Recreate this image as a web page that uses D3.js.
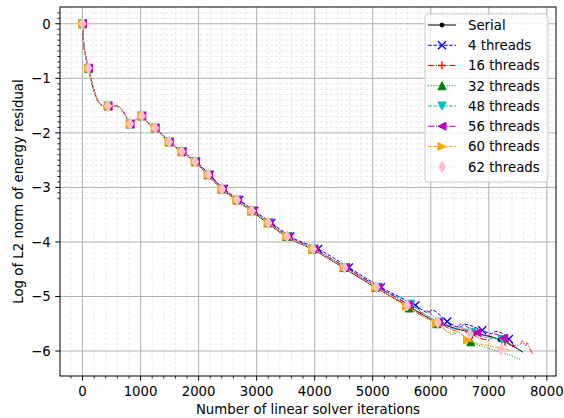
<!DOCTYPE html>
<html><head><meta charset="utf-8">
<script src="https://cdn.jsdelivr.net/npm/d3@7"></script>
<style>body{margin:0;background:#fff} text{font-family:"DejaVu Sans",sans-serif;fill:#000}</style>
</head><body><svg id="c" width="564" height="418"></svg>
<script>
// ---------- data ----------
const xTicks = [0, 1000, 2000, 3000, 4000, 5000, 6000, 7000, 8000];
const yTicks = [0, -1, -2, -3, -4, -5, -6];
const seriesNames = ["Serial", "4 threads", "16 threads", "32 threads", "48 threads", "56 threads", "60 threads", "62 threads"];

// shared early bend nodes of the residual curve (no markers)
const bendIter = [9, 26, 60, 186, 245, 350, 560, 680, 760, 1130];
const bendRes  = [-0.20, -0.42, -0.63, -1.18, -1.365, -1.50, -1.50, -1.58, -1.72, -1.82];

// outer-step (marker) points and extra line nodes for each run
const serialIter = [0,100,440,820,1021,1251,1490,1708,1936,2160,2396,2650,2905,3185,3505,3955,4490,5040,5580,6110,6650,7190];
const serialRes  = [0,-0.815,-1.506,-1.837,-1.69,-1.91,-2.167,-2.345,-2.53,-2.77,-3.03,-3.23,-3.43,-3.65,-3.90,-4.13,-4.47,-4.83,-5.16,-5.47,-5.65,-5.79];
const serialExtraIter = [7400, 7590];
const serialExtraRes  = [-5.90, -6.02];

const t4Iter = [0,100,440,820,1021,1251,1497,1722,1958,2192,2436,2700,2960,3255,3580,4060,4590,5140,5736,6284,6888,7347];
const t4Res  = [0,-0.815,-1.506,-1.837,-1.69,-1.91,-2.167,-2.345,-2.53,-2.77,-3.03,-3.23,-3.43,-3.65,-3.90,-4.13,-4.47,-4.83,-5.16,-5.46,-5.62,-5.78];
const t4ExtraIter = [5950, 6020, 6500, 6580, 7050, 7120, 7430];
const t4ExtraRes  = [-5.29, -5.25, -5.56, -5.51, -5.68, -5.64, -5.90];

const t16Iter = [0,100,440,820,1021,1251,1495,1716,1948,2175,2414,2674,2934,3218,3543,3995,4540,5095,5630,6160,6720,7280];
const t16Res  = [0,-0.815,-1.506,-1.837,-1.69,-1.91,-2.167,-2.345,-2.53,-2.77,-3.03,-3.23,-3.43,-3.65,-3.90,-4.13,-4.47,-4.83,-5.16,-5.48,-5.70,-5.83];
const t16ExtraIter = [5850, 5910, 6420, 6480, 7000, 7060, 7400, 7541, 7587, 7627, 7666, 7700, 7742, 7770];
const t16ExtraRes  = [-5.30, -5.26, -5.62, -5.57, -5.80, -5.75, -5.90, -5.88, -5.81, -5.91, -5.85, -5.94, -6.03, -6.06];

const t32Iter = [0,100,440,820,1021,1251,1490,1708,1936,2160,2398,2655,2912,3195,3515,3962,4500,5050,5632,6105,6690];
const t32Res  = [0,-0.815,-1.506,-1.837,-1.69,-1.91,-2.167,-2.345,-2.53,-2.77,-3.03,-3.23,-3.43,-3.65,-3.90,-4.13,-4.47,-4.83,-5.21,-5.50,-5.83];
const t32ExtraIter = [6400, 6450, 7000, 7300, 7540];
const t32ExtraRes  = [-5.70, -5.65, -5.95, -6.05, -6.15];

const t48Iter = [0,100,440,820,1021,1251,1494,1714,1944,2170,2408,2668,2926,3210,3534,3985,4528,5080,5659,6150,6715,7226];
const t48Res  = [0,-0.815,-1.506,-1.837,-1.69,-1.91,-2.167,-2.345,-2.53,-2.77,-3.03,-3.23,-3.43,-3.65,-3.90,-4.13,-4.47,-4.83,-5.14,-5.47,-5.66,-5.79];
const t48ExtraIter = [5900, 6430, 6480, 6950, 7350];
const t48ExtraRes  = [-5.33, -5.60, -5.55, -5.75, -5.88];

const t56Iter = [0,100,440,820,1021,1251,1494,1716,1946,2172,2410,2672,2930,3215,3540,3990,4535,5090,5610,6135,6795,7257];
const t56Res  = [0,-0.815,-1.506,-1.837,-1.69,-1.91,-2.167,-2.345,-2.53,-2.77,-3.03,-3.23,-3.43,-3.65,-3.90,-4.13,-4.47,-4.83,-5.15,-5.47,-5.66,-5.76];
const t56ExtraIter = [5850, 6450, 6510, 7000, 7060, 7420];
const t56ExtraRes  = [-5.35, -5.56, -5.51, -5.72, -5.68, -5.93];

const t60Iter = [0,100,440,820,1021,1251,1490,1710,1938,2162,2398,2656,2914,3196,3518,3966,4505,5055,5580,6100,6635];
const t60Res  = [0,-0.815,-1.506,-1.837,-1.69,-1.91,-2.167,-2.345,-2.53,-2.77,-3.03,-3.23,-3.43,-3.65,-3.90,-4.13,-4.47,-4.83,-5.18,-5.49,-5.80];
const t60ExtraIter = [5850, 6380, 6430, 7000, 7350];
const t60ExtraRes  = [-5.36, -5.68, -5.63, -5.90, -5.98];

const t62Iter = [0,100,440,820,1021,1251,1492,1712,1941,2166,2402,2661,2919,3201,3523,3972,4512,5064,5594,6122,6674,7210];
const t62Res  = [0,-0.815,-1.506,-1.837,-1.69,-1.91,-2.167,-2.345,-2.53,-2.77,-3.03,-3.23,-3.43,-3.65,-3.90,-4.13,-4.47,-4.83,-5.16,-5.475,-5.68,-5.97];
const t62ExtraIter = [5850, 6400, 6450, 6950, 7000, 7300];
const t62ExtraRes  = [-5.34, -5.62, -5.57, -5.84, -5.80, -6.02];

// ---------- styles (separate from data) ----------
const styles = [
  {color: "#000000", dash: null,            marker: "point"},
  {color: "#0000ff", dash: "3.7,1.6",       marker: "x"},
  {color: "#ff0000", dash: "6.4,1.6,1,1.6", marker: "plus"},
  {color: "#008000", dash: "1,1.65",        marker: "tri_up"},
  {color: "#00bfbf", dash: "3.7,1.6",       marker: "tri_down"},
  {color: "#bf00bf", dash: "6.4,1.6,1,1.6", marker: "tri_left"},
  {color: "#ffa500", dash: "3.7,1.6",       marker: "tri_right"},
  {color: "#ffc0cb", dash: "1,1.65",        marker: "thin_diamond"}
];

const runs = [
  [serialIter, serialRes, serialExtraIter, serialExtraRes],
  [t4Iter, t4Res, t4ExtraIter, t4ExtraRes],
  [t16Iter, t16Res, t16ExtraIter, t16ExtraRes],
  [t32Iter, t32Res, t32ExtraIter, t32ExtraRes],
  [t48Iter, t48Res, t48ExtraIter, t48ExtraRes],
  [t56Iter, t56Res, t56ExtraIter, t56ExtraRes],
  [t60Iter, t60Res, t60ExtraIter, t60ExtraRes],
  [t62Iter, t62Res, t62ExtraIter, t62ExtraRes]
];

// ---------- layout ----------
const svg = d3.select("#c");
const L = 60, R = 556, T = 7, B = 376;
const x = d3.scaleLinear().domain([-388.5, 8158.5]).range([L, R]);
const y = d3.scaleLinear().domain([0.3075, -6.4575]).range([T, B]);

const xMinor = d3.range(-200, 8001, 200).filter(v => v % 1000 !== 0);
const yMinor = d3.range(2, -33, -1).map(v => v / 10).filter(v => Math.abs(v - Math.round(v)) > 1e-6);

const grid = svg.append("g");
grid.selectAll(".mgx").data(xMinor).join("line")
  .attr("x1", d => x(d)).attr("x2", d => x(d)).attr("y1", T).attr("y2", B)
  .attr("stroke", "#e3e3e3").attr("stroke-width", 0.8).attr("stroke-dasharray", "3,2");
grid.selectAll(".mgy").data(yMinor).join("line")
  .attr("x1", L).attr("x2", R).attr("y1", d => y(d)).attr("y2", d => y(d))
  .attr("stroke", "#e3e3e3").attr("stroke-width", 0.8).attr("stroke-dasharray", "3,2");
grid.selectAll(".gx").data(xTicks).join("line")
  .attr("x1", d => x(d)).attr("x2", d => x(d)).attr("y1", T).attr("y2", B)
  .attr("stroke", "#b0b0b0").attr("stroke-width", 1);
grid.selectAll(".gy").data(yTicks).join("line")
  .attr("x1", L).attr("x2", R).attr("y1", d => y(d)).attr("y2", d => y(d))
  .attr("stroke", "#b0b0b0").attr("stroke-width", 1);

// ---------- marker shapes ----------
function markerPath(kind) {
  const h = 4;
  switch (kind) {
    case "x": return `M${-h},${-h}L${h},${h}M${-h},${h}L${h},${-h}`;
    case "plus": return `M${-h},0L${h},0M0,${-h}L0,${h}`;
    case "tri_up": return `M0,${-h}L${-h},${h}L${h},${h}Z`;
    case "tri_down": return `M0,${h}L${-h},${-h}L${h},${-h}Z`;
    case "tri_left": return `M${-h},0L${h},${-h}L${h},${h}Z`;
    case "tri_right": return `M${h},0L${-h},${-h}L${-h},${h}Z`;
    case "thin_diamond": return `M0,-5.66L3.4,0L0,5.66L-3.4,0Z`;
    case "point": return "M-2,0A2,2 0 1,0 2,0A2,2 0 1,0 -2,0Z";
  }
}
function drawMarker(g, kind, color, cx, cy) {
  const p = g.append("path").attr("d", markerPath(kind)).attr("transform", `translate(${cx},${cy})`);
  if (kind === "x" || kind === "plus") {
    p.attr("fill", "none").attr("stroke", color).attr("stroke-width", 1.33);
  } else {
    p.attr("fill", color).attr("stroke", color).attr("stroke-width", 1);
  }
}

// ---------- series ----------
const plot = svg.append("g");
svg.append("clipPath").attr("id", "clipP").append("rect").attr("x", L).attr("y", T).attr("width", R - L).attr("height", B - T);
plot.attr("clip-path", "url(#clipP)");
const lineGen = d3.line().x(d => x(d[0])).y(d => y(d[1])).curve(d3.curveMonotoneX);

runs.forEach((run, i) => {
  const [si, sr, ei, er] = run;
  const st = styles[i];
  let nodes = si.map((v, k) => [v, sr[k]]);
  bendIter.forEach((v, k) => nodes.push([v, bendRes[k]]));
  ei.forEach((v, k) => nodes.push([v, er[k]]));
  nodes.sort((a, b) => a[0] - b[0]);
  const g = plot.append("g");
  g.append("path").datum(nodes).attr("d", lineGen)
    .attr("fill", "none").attr("stroke", st.color).attr("stroke-width", 1)
    .attr("stroke-dasharray", st.dash);
  si.forEach((v, k) => drawMarker(g, st.marker, st.color, x(v), y(sr[k])));
});

// ---------- axes ----------
const ax = svg.append("g");
ax.append("rect").attr("x", L).attr("y", T).attr("width", R - L).attr("height", B - T)
  .attr("fill", "none").attr("stroke", "#000").attr("stroke-width", 1);
ax.selectAll(".xt").data(xTicks).join("line")
  .attr("x1", d => x(d)).attr("x2", d => x(d)).attr("y1", B).attr("y2", B + 4.7).attr("stroke", "#000");
ax.selectAll(".xm").data(xMinor).join("line")
  .attr("x1", d => x(d)).attr("x2", d => x(d)).attr("y1", B).attr("y2", B + 2.7).attr("stroke", "#000").attr("stroke-width", 0.8);
ax.selectAll(".xl").data(xTicks).join("text")
  .attr("x", d => x(d)).attr("y", B + 9.4).attr("dy", "0.76em").attr("text-anchor", "middle")
  .attr("font-size", "13.3px").text(d => d3.format("d")(d));
ax.selectAll(".yt").data(yTicks).join("line")
  .attr("x1", L - 4.7).attr("x2", L).attr("y1", d => y(d)).attr("y2", d => y(d)).attr("stroke", "#000");
ax.selectAll(".ym").data(yMinor).join("line")
  .attr("x1", L - 2.7).attr("x2", L).attr("y1", d => y(d)).attr("y2", d => y(d)).attr("stroke", "#000").attr("stroke-width", 0.8);
ax.selectAll(".yl").data(yTicks).join("text")
  .attr("x", L - 9.4).attr("y", d => y(d)).attr("dy", "0.36em").attr("text-anchor", "end")
  .attr("font-size", "13.3px").text(d => d === 0 ? "0" : "\u2212" + Math.abs(d));
ax.append("text").attr("x", (L + R) / 2).attr("y", 414).attr("text-anchor", "middle")
  .attr("font-size", "13.3px").text("Number of linear solver iterations");
ax.append("text").attr("transform", `translate(18,${(T + B) / 2}) rotate(-90)`).attr("text-anchor", "middle")
  .attr("dy", "0.36em").attr("font-size", "13.3px").text("Log of L2 norm of energy residual");

// ---------- legend ----------
const lg = svg.append("g");
lg.append("rect").attr("x", 425).attr("y", 14).attr("width", 123).attr("height", 168).attr("rx", 3)
  .attr("fill", "#fff").attr("fill-opacity", 0.8).attr("stroke", "#cccccc").attr("stroke-width", 1);
seriesNames.forEach((name, i) => {
  const cy = 25 + i * 20.25;
  const st = styles[i];
  const g = lg.append("g");
  g.append("line").attr("x1", 428).attr("x2", 456).attr("y1", cy).attr("y2", cy)
    .attr("stroke", st.color).attr("stroke-width", 1).attr("stroke-dasharray", st.dash);
  drawMarker(g, st.marker, st.color, 442, cy);
  g.append("text").attr("x", 468).attr("y", cy).attr("dy", "0.36em").attr("font-size", "13.3px").text(name);
});
</script></body></html>
